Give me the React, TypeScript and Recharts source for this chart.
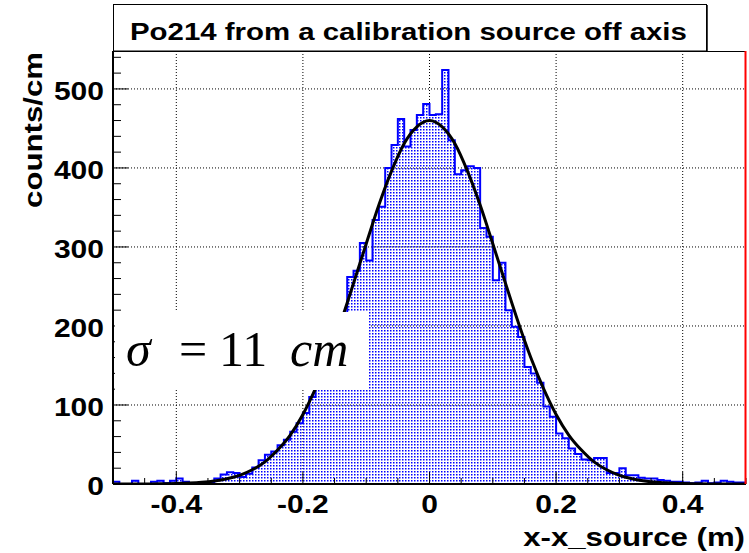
import { ComposedChart, Area, Line, XAxis, YAxis, CartesianGrid } from "recharts";

// counts per 1 cm bin, from x = -0.50 m to +0.50 m
const binCounts = [
  3, 0, 0, 4, 0, 0, 3, 4, 1, 4,
  7, 3, 1, 1, 2, 2, 7, 12, 15, 14,
  9, 13, 21, 30, 37, 41, 49, 56, 66, 77,
  90, 110, 128, 152, 168, 190, 215, 262, 270, 305,
  283, 334, 351, 400, 429, 462, 427, 448, 467, 481,
  467, 468, 524, 435, 392, 397, 402, 400, 324, 313,
  258, 280, 220, 199, 186, 148, 140, 128, 98, 85,
  64, 58, 45, 38, 31, 30, 33, 33, 14, 14,
  20, 11, 11, 8, 7, 7, 5, 4, 3, 3,
  2, 1, 2, 4, 1, 2, 4, 3, 2, 2,
];

// gaussian fit read every 2 cm
const fitCounts = [
  0, 0, 0.1, 0.1, 0.3, 0.6, 1.2, 2.2, 3.9, 6.7,
  11, 18, 28, 43, 62, 88, 121, 160, 205, 254,
  304, 353, 396, 431, 452, 460, 452, 431, 396, 353,
  304, 254, 205, 160, 121, 88, 62, 43, 28, 18,
  11, 6.7, 3.9, 2.2, 1.2, 0.6, 0.3, 0.1, 0.1, 0, 0,
];

const xMajorLabels = [-0.4, -0.2, 0, 0.2, 0.4];
const xTicks = [
  -0.5, -0.45, -0.4, -0.35, -0.3, -0.25, -0.2, -0.15, -0.1, -0.05, 0,
  0.05, 0.1, 0.15, 0.2, 0.25, 0.3, 0.35, 0.4, 0.45, 0.5,
];
const yMajorLabels = [0, 100, 200, 300, 400, 500];
const yTicks = [
  0, 20, 40, 60, 80, 100, 120, 140, 160, 180, 200, 220, 240, 260,
  280, 300, 320, 340, 360, 380, 400, 420, 440, 460, 480, 500, 520, 540,
];

const FONT = '"Liberation Sans", Arial, sans-serif';
const SERIF = '"Liberation Serif", "Times New Roman", serif';

const rows: Array<{ x: number; h: number; fit: number | null }> = [];
for (let k = 0; k <= binCounts.length; k++) {
  rows.push({
    x: Math.round((-0.5 + k * 0.01) * 100) / 100,
    h: binCounts[Math.min(k, binCounts.length - 1)],
    fit: k % 2 === 0 ? fitCounts[k / 2] : null,
  });
}

function XTick(props: any) {
  const { x, y, payload } = props;
  const major = xMajorLabels.find((m) => Math.abs(m - payload.value) < 1e-6);
  const isMajor = major !== undefined;
  return (
    <g>
      <line x1={x} x2={x} y1={y} y2={y - (isMajor ? 12 : 6)} stroke="#000" strokeWidth={1} />
      {isMajor && (
        <text
          transform={`translate(${x},${y + 29}) scale(1.2,1)`}
          textAnchor="middle"
          fontFamily={FONT}
          fontWeight="bold"
          fontSize={25}
          fill="#000"
        >
          {String(major)}
        </text>
      )}
    </g>
  );
}

function YTick(props: any) {
  const { x, y, payload } = props;
  const isMajor = yMajorLabels.includes(payload.value);
  return (
    <g>
      <line x1={x} x2={x + (isMajor ? 15 : 8)} y1={y} y2={y} stroke="#000" strokeWidth={1} />
      {isMajor && (
        <text
          transform={`translate(${x - 9},${y + 11}) scale(1.2,1)`}
          textAnchor="end"
          fontFamily={FONT}
          fontWeight="bold"
          fontSize={25}
          fill="#000"
        >
          {String(payload.value)}
        </text>
      )}
    </g>
  );
}

export default function App() {
  return (
    <div style={{ position: "absolute", left: 0, top: 0, width: 749, height: 553, background: "#fff" }}>
      <svg width={0} height={0} style={{ position: "absolute" }}>
        <defs>
          <pattern id="dots" width={3} height={3} patternUnits="userSpaceOnUse">
            <rect x={0} y={0} width={1.5} height={1.5} fill="#0000ff" />
          </pattern>
        </defs>
      </svg>
      <ComposedChart
        width={749}
        height={553}
        data={rows}
        margin={{ top: 51, right: 3, bottom: 39, left: 0 }}
      >
        <CartesianGrid
          stroke="#000"
          strokeDasharray="1 2"
          horizontalValues={[100, 200, 300, 400, 500]}
          verticalValues={[-0.4, -0.2, 0, 0.2, 0.4]}
        />
        <XAxis
          dataKey="x"
          type="number"
          domain={[-0.5, 0.5]}
          ticks={xTicks}
          interval={0}
          height={30}
          tickSize={0}
          tickMargin={0}
          tickLine={false}
          axisLine={{ stroke: "#000", strokeWidth: 2 }}
          tick={<XTick />}
          allowDataOverflow
        />
        <YAxis
          type="number"
          domain={[0, 548]}
          ticks={yTicks}
          interval={0}
          width={113}
          tickSize={0}
          tickMargin={0}
          tickLine={false}
          axisLine={{ stroke: "#000", strokeWidth: 2 }}
          tick={<YTick />}
          allowDataOverflow
        />
        <Area
          dataKey="h"
          type="stepAfter"
          stroke="#0000ff"
          strokeWidth={2}
          fill="url(#dots)"
          fillOpacity={1}
          dot={false}
          activeDot={false}
          isAnimationActive={false}
        />
        <Line
          dataKey="fit"
          type="monotone"
          stroke="#000"
          strokeWidth={3}
          dot={false}
          activeDot={false}
          connectNulls
          isAnimationActive={false}
        />
      </ComposedChart>
      <svg
        width={749}
        height={553}
        style={{ position: "absolute", left: 0, top: 0, pointerEvents: "none" }}
      >
        <line x1={113} x2={746} y1={51.5} y2={51.5} stroke="#000" strokeWidth={1} />
        <line x1={745.5} x2={745.5} y1={51} y2={484} stroke="#ff0000" strokeWidth={2} />
        <rect x={113.5} y={4.5} width={593} height={46.5} fill="#fff" stroke="#000" strokeWidth={1} />
        <line x1={707} x2={707} y1={5} y2={51} stroke="#000" strokeWidth={1.5} />
        <text
          transform="translate(130,40) scale(1.2,1)"
          fontFamily={FONT}
          fontWeight="bold"
          fontSize={24.5}
          fill="#000"
        >
          Po214 from a calibration source off axis
        </text>
        <text
          transform="translate(42,52) rotate(-90) scale(1.2,1)"
          textAnchor="end"
          fontFamily={FONT}
          fontWeight="bold"
          fontSize={26}
          fill="#000"
        >
          counts/cm
        </text>
        <text
          transform="translate(745,546) scale(1.2,1)"
          textAnchor="end"
          fontFamily={FONT}
          fontWeight="bold"
          fontSize={26}
          fill="#000"
        >
          x-x_source (m)
        </text>
        <rect x={115} y={312} width={254} height={78} fill="#fff" />
        <text fontFamily={SERIF} fontSize={50} fill="#000" y={366}>
          <tspan x={126} fontStyle="italic">σ</tspan>
          <tspan x={179}>=</tspan>
          <tspan x={219}>11</tspan>
          <tspan x={290} fontStyle="italic">cm</tspan>
        </text>
      </svg>
    </div>
  );
}
